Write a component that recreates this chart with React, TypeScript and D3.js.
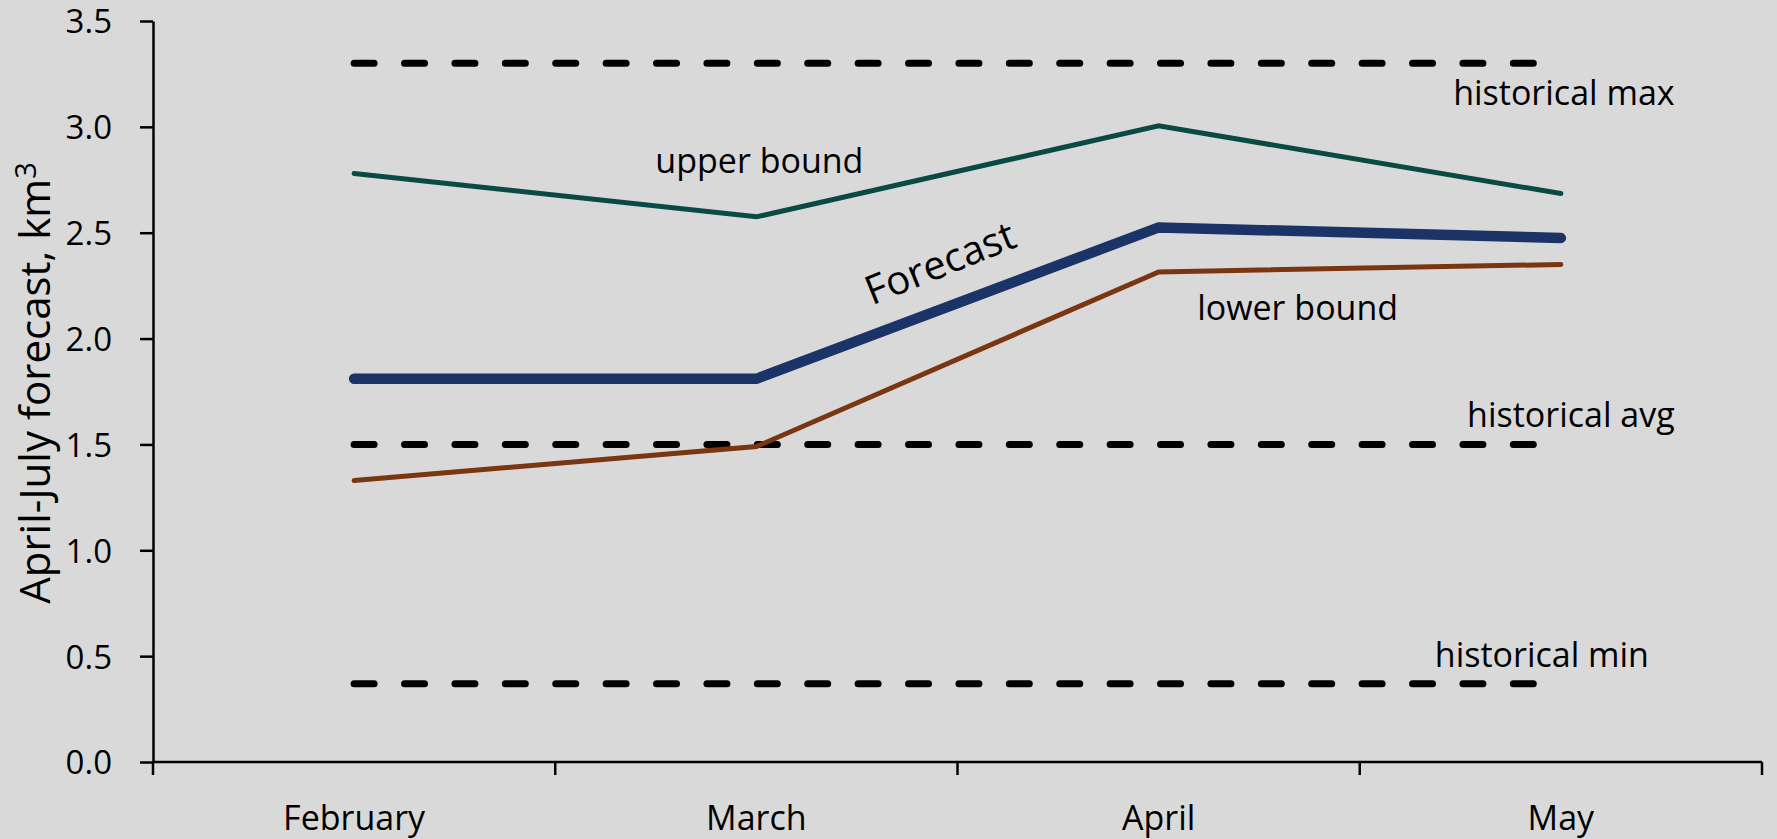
import React, { useEffect, useRef } from 'react';
import * as d3 from 'd3';

const months = ['February', 'March', 'April', 'May'];
const upperBound = [2.78, 2.575, 3.005, 2.685];
const forecast = [1.81, 1.81, 2.525, 2.475];
const lowerBound = [1.33, 1.49, 2.315, 2.35];
const historicalMax = [3.3, 3.3, 3.3, 3.3];
const historicalAvg = [1.5, 1.5, 1.5, 1.5];
const historicalMin = [0.37, 0.37, 0.37, 0.37];
const yTicks = [0, 0.5, 1.0, 1.5, 2.0, 2.5, 3.0, 3.5];

const WIDTH = 1777;
const HEIGHT = 839;
const FONT = '"Open Sans", "Noto Sans", sans-serif';

const App: React.FC = () => {
  const svgRef = useRef<SVGSVGElement>(null);

  useEffect(() => {
    if (!svgRef.current) return;
    const svg = d3.select(svgRef.current);
    svg.selectAll('*').remove();

    const left = 153;
    const right = 1762;
    const top = 21;
    const bottom = 762;

    const x = d3.scaleBand<string>().domain(months).range([left, right]);
    const y = d3.scaleLinear().domain([0, 3.5]).range([bottom, top]);
    const cx = (m: string) => (x(m) as number) + x.bandwidth() / 2;

    svg.append('rect')
      .attr('width', WIDTH)
      .attr('height', HEIGHT)
      .attr('fill', '#d9d9d9');

    // y axis
    const yAxis = svg.append('g')
      .attr('transform', `translate(${left},0)`)
      .call(d3.axisLeft(y)
        .tickValues(yTicks)
        .tickFormat(d => d3.format('.1f')(d as number))
        .tickSize(13)
        .tickSizeOuter(0)
        .tickPadding(28));
    yAxis.select('.domain').attr('stroke', '#000').attr('stroke-width', 2.5);
    yAxis.selectAll('.tick line').attr('stroke', '#000').attr('stroke-width', 2.5);
    yAxis.selectAll('.tick text')
      .attr('fill', '#000')
      .attr('dy', '0.36em')
      .style('font-family', FONT)
      .style('font-size', '33px');

    // x axis (ticks on category boundaries)
    const g = svg.append('g');
    g.append('line')
      .attr('x1', left).attr('x2', right)
      .attr('y1', y(0)).attr('y2', y(0))
      .attr('stroke', '#000').attr('stroke-width', 2.5);
    const bounds = months.map(m => x(m) as number).concat([right]);
    g.selectAll('.xtick')
      .data(bounds)
      .enter().append('line')
      .attr('x1', d => d).attr('x2', d => d)
      .attr('y1', y(0)).attr('y2', y(0) + 13)
      .attr('stroke', '#000').attr('stroke-width', 2.5);
    g.selectAll('.xlabel')
      .data(months)
      .enter().append('text')
      .attr('x', d => cx(d))
      .attr('y', 830)
      .attr('text-anchor', 'middle')
      .style('font-family', FONT)
      .style('font-size', '34px')
      .text(d => d);

    // y axis title
    const title = svg.append('text')
      .attr('transform', `translate(50,383) rotate(-90)`)
      .attr('text-anchor', 'middle')
      .style('font-family', FONT)
      .style('font-size', '42px');
    title.append('tspan').text('April-July forecast, km');
    title.append('tspan')
      .attr('dy', '-0.5em')
      .style('font-size', '29px')
      .text('3');

    const line = d3.line<number>()
      .x((_, i) => cx(months[i]))
      .y(d => y(d));

    // dashed historical lines
    [historicalMax, historicalAvg, historicalMin].forEach(series => {
      svg.append('path')
        .datum(series)
        .attr('fill', 'none')
        .attr('stroke', '#000')
        .attr('stroke-width', 7)
        .attr('stroke-dasharray', '20,30.4')
        .attr('stroke-linecap', 'round')
        .attr('d', line);
    });

    const solid = [
      { values: lowerBound, color: '#7a3511', width: 5 },
      { values: upperBound, color: '#0a4a44', width: 5 },
      { values: forecast, color: '#1b3366', width: 10.5 },
    ];
    solid.forEach(s => {
      svg.append('path')
        .datum(s.values)
        .attr('fill', 'none')
        .attr('stroke', s.color)
        .attr('stroke-width', s.width)
        .attr('stroke-linecap', 'round')
        .attr('stroke-linejoin', 'miter')
        .attr('d', line);
    });

    // annotations, placed relative to category centre and value
    const notes = [
      { text: 'upper bound', month: 'March', dx: 3, value: 2.782, size: 34, rot: 0 },
      { text: 'lower bound', month: 'April', dx: 139, value: 2.089, size: 34, rot: 0 },
      { text: 'historical max', month: 'May', dx: 3, value: 3.103, size: 34, rot: 0 },
      { text: 'historical avg', month: 'May', dx: 10, value: 1.583, size: 34, rot: 0 },
      { text: 'historical min', month: 'May', dx: -19, value: 0.45, size: 34, rot: 0 },
      { text: 'Forecast', month: 'March', dx: 189, value: 2.296, size: 40, rot: -22 },
    ];
    notes.forEach(n => {
      svg.append('text')
        .attr('transform', `translate(${cx(n.month) + n.dx},${y(n.value)}) rotate(${n.rot})`)
        .attr('text-anchor', 'middle')
        .style('font-family', FONT)
        .style('font-size', `${n.size}px`)
        .text(n.text);
    });
  }, []);

  return (
    <div style={{ position: 'fixed', left: 0, top: 0 }}>
      <svg ref={svgRef} width={WIDTH} height={HEIGHT} style={{ display: 'block' }} />
    </div>
  );
};

export default App;
